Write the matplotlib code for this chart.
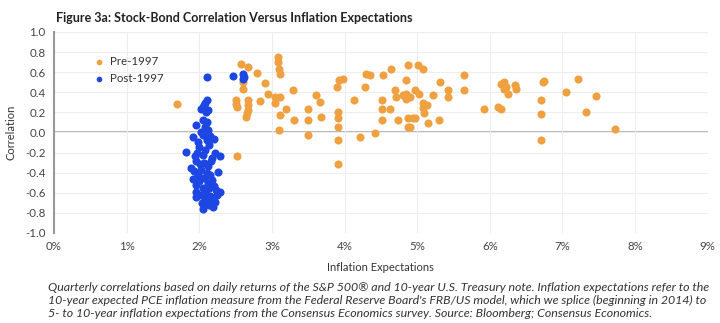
import matplotlib.pyplot as plt

# Pre-1997: (inflation expectations %, correlation)
pre_x = [1.69, 2.52, 2.58, 2.67, 2.60, 2.60, 2.51, 2.51, 2.52, 2.67, 2.67, 2.67, 2.66, 2.65,
         2.80, 2.90, 2.83, 2.95, 3.04, 3.04, 3.09, 3.09, 3.10, 3.11, 3.11, 3.20, 3.10, 3.29, 3.31, 3.11,
         3.50, 3.50, 3.50, 3.61, 3.66, 3.68, 3.89, 3.93, 3.98, 3.91, 3.91, 3.91, 3.91, 3.91, 4.13, 4.21,
         4.28, 4.30, 4.35, 4.42, 4.51, 4.51, 4.51, 4.53, 4.62, 4.64, 4.69, 4.71, 4.74, 4.85, 4.87, 4.85,
         4.85, 4.87, 4.87, 4.97, 4.97, 5.01, 5.08, 4.80, 4.90, 5.03, 5.22, 5.31, 5.42, 5.42, 5.65, 5.65,
         5.08, 5.08, 5.10, 5.13, 4.94, 4.90, 5.15, 5.30, 5.92, 6.11, 6.16, 6.16, 6.20, 6.25, 6.34, 6.36,
         6.20, 6.22, 6.73, 6.75, 6.71, 6.71, 6.71, 7.05, 7.21, 7.33, 7.46, 7.72]
pre_y = [0.28, -0.23, 0.68, 0.65, 0.50, 0.43, 0.32, 0.28, 0.25, 0.32, 0.27, 0.22, 0.19, 0.15,
         0.59, 0.49, 0.31, 0.385, 0.35, 0.29, 0.75, 0.70, 0.63, 0.58, 0.17, 0.23, 0.02, 0.42, 0.12, 0.35,
         0.235, 0.12, -0.03, 0.37, 0.30, 0.15, 0.45, 0.52, 0.53, 0.20, 0.14, 0.05, -0.08, -0.31, 0.325, -0.05,
         0.45, 0.58, 0.57, -0.01, 0.32, 0.235, 0.12, 0.57, 0.235, 0.63, 0.42, 0.35, 0.12, 0.52, 0.67, 0.385,
         0.335, 0.14, 0.05, 0.14, 0.42, 0.67, 0.63, 0.37, 0.35, 0.385, 0.37, 0.50, 0.42, 0.35, 0.57, 0.425,
         0.29, 0.24, 0.19, 0.27, 0.14, 0.05, 0.09, 0.125, 0.235, 0.25, 0.235, 0.48, 0.43, 0.385, 0.47, 0.43,
         0.50, 0.45, 0.50, 0.51, 0.32, 0.185, -0.08, 0.40, 0.53, 0.20, 0.36, 0.037]

# Post-1997
post_x = [2.10, 2.47, 2.60, 2.60, 2.61,
          2.10, 2.08, 2.05, 2.03, 2.12, 2.09, 2.07,
          2.05, 1.96, 2.10, 2.08, 2.12, 2.02,
          1.92, 2.05, 2.15, 2.10, 1.98, 2.20,
          1.82, 2.00, 2.08, 2.13, 2.22, 2.28, 1.94, 1.97, 2.05, 2.18,
          1.89, 1.95, 2.01, 2.06, 2.12, 2.16, 2.26, 1.93, 2.03, 2.10, 2.15, 1.98,
          1.92, 2.00, 2.07, 2.12, 2.18, 2.20, 1.96, 2.05, 2.14, 2.23, 2.28, 2.25,
          1.96, 1.96, 2.02, 2.09, 2.15, 2.19, 2.10, 2.04, 2.13, 2.19, 2.05, 2.17, 2.22, 2.08]
post_y = [0.55, 0.56, 0.58, 0.53, 0.55,
          0.32, 0.29, 0.25, 0.23, 0.22, 0.20, 0.27,
          0.12, 0.07, 0.10, 0.05, 0.02, 0.00,
          -0.05, -0.03, -0.04, -0.08, -0.10, -0.07,
          -0.19, -0.15, -0.17, -0.13, -0.20, -0.23, -0.23, -0.20, -0.22, -0.25,
          -0.35, -0.28, -0.31, -0.30, -0.33, -0.28, -0.39, -0.38, -0.37, -0.40, -0.42, -0.42,
          -0.46, -0.48, -0.45, -0.50, -0.47, -0.53, -0.52, -0.55, -0.55, -0.57, -0.59, -0.62,
          -0.59, -0.64, -0.62, -0.60, -0.63, -0.66, -0.68, -0.70, -0.72, -0.74, -0.76, -0.70, -0.69, -0.65]

x_ticks = [0, 1, 2, 3, 4, 5, 6, 7, 8, 9]
y_ticks = [1.0, 0.8, 0.6, 0.4, 0.2, 0.0, -0.2, -0.4, -0.6, -0.8, -1.0]

title = "Figure 3a: Stock-Bond Correlation Versus Inflation Expectations"
note = ("Quarterly correlations based on daily returns of the S&P 500® and 10-year U.S. Treasury note. "
        "Inflation expectations refer to the\n"
        "10-year expected PCE inflation measure from the Federal Reserve Board's FRB/US model, "
        "which we splice (beginning in 2014) to\n"
        "5- to 10-year inflation expectations from the Consensus Economics survey. "
        "Source: Bloomberg; Consensus Economics.")

plt.rcParams['font.family'] = ['Lato', 'DejaVu Sans']

fig = plt.figure(figsize=(7.2, 3.23), dpi=100)
ax = fig.add_axes([0.075, 0.279, 0.908, 0.622])

ax.scatter(pre_x, pre_y, s=34, color='#EFA040', label='Pre-1997', zorder=3, linewidths=0)
ax.scatter(post_x, post_y, s=34, color='#1D46E3', label='Post-1997', zorder=4, linewidths=0)

ax.set_xlim(0, 9)
ax.set_ylim(-1.0, 1.0)
ax.set_xticks(x_ticks)
ax.set_xticklabels([f"{t}%" for t in x_ticks])
ax.set_yticks(y_ticks)
ax.set_yticklabels([f"{t:.1f}" for t in y_ticks])
ax.tick_params(length=0, labelsize=8.3, colors='#444444', pad=6)

ax.grid(True, color='#ededed', linewidth=0.8, zorder=0)
ax.axhline(0, color='#aaaaaa', linewidth=1.2, zorder=1)
for s in ['top', 'right', 'bottom']:
    ax.spines[s].set_visible(False)
ax.spines['left'].set_color('#999999')
ax.spines['left'].set_linewidth(1.5)

ax.set_xlabel("Inflation Expectations", fontsize=8, color='#333333', labelpad=7)
ax.set_ylabel("Correlation", fontsize=8, color='#333333', labelpad=6)

ax.legend(loc='upper left', bbox_to_anchor=(0.035, 0.93), frameon=False, fontsize=8.3,
          handletextpad=0.0, labelspacing=0.45, markerscale=0.7, labelcolor='#333333')

fig.text(0.078, 0.945, title, fontsize=9, fontweight='bold', color='#222222', va='center')
fig.text(0.067, 0.012, note, fontsize=8.9, style='italic', color='#333333', va='bottom', linespacing=1.2)

plt.savefig('out.png')
